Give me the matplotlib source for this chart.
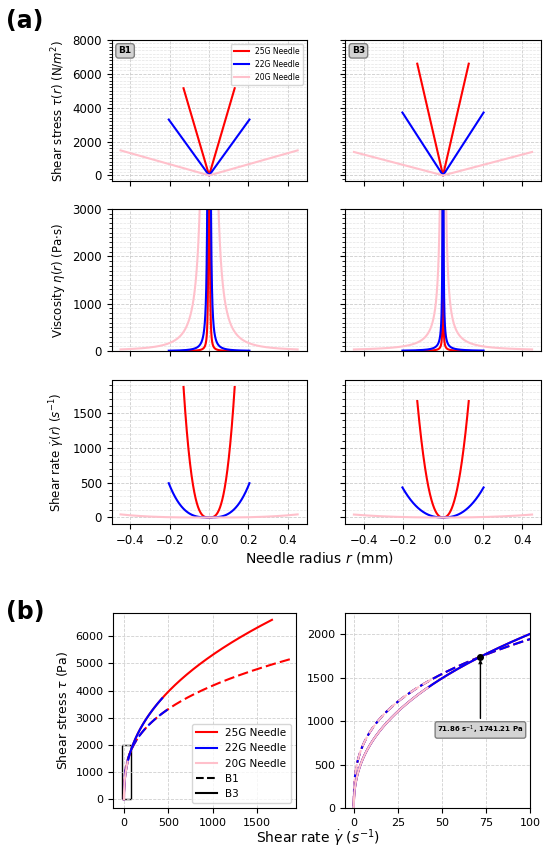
import numpy as np
import matplotlib
matplotlib.use('Agg')
import matplotlib.pyplot as plt
from matplotlib.lines import Line2D
from matplotlib.patches import Rectangle
from matplotlib.ticker import MultipleLocator

# Needles and batches
needles = ['25G Needle', '22G Needle', '20G Needle']
colors = ['red', 'blue', 'pink']
radius_mm = [0.13, 0.205, 0.45]
batches = ['B1', 'B3']
batch_styles = {'B1': (0, (5, 2)), 'B3': '-'}

# Wall shear stress (Pa), per batch and needle
wall_stress = {'B1': [5150, 3300, 1480], 'B3': [6600, 3715, 1385]}
# Flow index of the power-law fits
flow_index = {'B1': 0.333, 'B3': 0.424}
# Crossing point of the two flow curves
cross_rate = 71.86
cross_stress = 1741.21


def profiles(batch, i, half=False):
    # stress grows linearly from the centre, shear rate follows the power law
    R = radius_mm[i]
    if half:
        r = np.linspace(-R, 0, 1000)
    else:
        r = np.linspace(-R, R, 2000)
    tau = wall_stress[batch][i] * np.abs(r) / R
    rate = cross_rate * (tau / cross_stress) ** (1.0 / flow_index[batch])
    with np.errstate(divide='ignore', invalid='ignore'):
        visc = tau / rate
    return r, tau, rate, visc


fig = plt.figure(figsize=(5.5, 8.51), dpi=100)
W, H = 550.0, 851.0


def add_ax(x0, y0, x1, y1, **kw):
    return fig.add_axes([x0 / W, 1 - y1 / H, (x1 - x0) / W, (y1 - y0) / H], **kw)


# ---- (a) radial profiles ----
cols = [(111.7, 306.5), (345, 541)]
rows = [(40, 181), (209, 351), (380.5, 524)]
axes = [[None, None] for _ in rows]
for ri, (y0, y1) in enumerate(rows):
    for ci, (x0, x1) in enumerate(cols):
        kw = {}
        if ri > 0:
            kw['sharex'] = axes[0][0]
        if ci > 0:
            kw['sharey'] = axes[ri][0]
        axes[ri][ci] = add_ax(x0, y0, x1, y1, **kw)

for ci, batch in enumerate(batches):
    for i in range(len(needles)):
        r, tau, rate, visc = profiles(batch, i)
        axes[0][ci].plot(r, tau, color=colors[i], lw=1.5, label=needles[i])
        axes[1][ci].plot(r, visc, color=colors[i], lw=1.5)
        axes[2][ci].plot(r, rate, color=colors[i], lw=1.5)
    axes[0][ci].text(0.035, 0.955, batch, transform=axes[0][ci].transAxes,
                     fontsize=6.5, fontweight='bold', va='top', ha='left',
                     bbox=dict(boxstyle='round,pad=0.3', facecolor='lightgray',
                               edgecolor='gray'))

axes[0][0].set_ylim(top=8000)
axes[1][0].set_ylim(0, 3000)
major_steps = [2000, 1000, 500]
minor_steps = [200, 100, 100]
for ri in range(3):
    for ci in range(2):
        ax = axes[ri][ci]
        ax.yaxis.set_major_locator(MultipleLocator(major_steps[ri]))
        ax.yaxis.set_minor_locator(MultipleLocator(minor_steps[ri]))
        ax.grid(True, which='major', linestyle='--', color='#cccccc', lw=0.6)
        ax.grid(True, which='minor', linestyle='--', color='#e4e4e4', lw=0.5)
        ax.tick_params(labelsize=8.5)
        ax.tick_params(which='minor', length=2)
        if ri < 2:
            ax.tick_params(labelbottom=False)
        if ci > 0:
            ax.tick_params(labelleft=False)
axes[0][0].set_xticks([-0.4, -0.2, 0.0, 0.2, 0.4])

axes[0][0].legend(loc='upper right', fontsize=5.5)
axes[0][0].set_ylabel(r'Shear stress $\tau(r)$ (N/$m^2$)', fontsize=8.5)
axes[1][0].set_ylabel(r'Viscosity $\eta(r)$ (Pa$\cdot$s)', fontsize=8.5)
axes[2][0].set_ylabel(r'Shear rate $\dot{\gamma}(r)$ $(s^{-1})$', fontsize=8.5)
fig.text(320 / W, 1 - 558 / H, r'Needle radius $r$ (mm)', fontsize=10,
         ha='center', va='center')
fig.text(6 / W, 1 - 21 / H, '(a)', fontsize=17, fontweight='bold',
         ha='left', va='center')

# ---- (b) flow curves ----
axl = add_ax(113.3, 613.3, 296, 808.3)
axr = add_ax(345, 613.3, 530, 808.3)
for ax in (axl, axr):
    for batch in batches:
        for i in range(len(needles)):
            r, tau, rate, visc = profiles(batch, i, half=True)
            ax.plot(rate, tau, color=colors[i], lw=1.5, ls=batch_styles[batch])
    ax.grid(True, linestyle='--', color='#d0d0d0', lw=0.6)
    ax.tick_params(labelsize=8)

axl.add_patch(Rectangle((-20, 0), 100, 2000, fill=False, edgecolor='black', lw=1))
axl.set_xlim(-120, 1935)
axl.set_ylim(-330, 6840)
axl.set_xticks([0, 500, 1000, 1500])
axl.set_ylabel(r'Shear stress $\tau$ (Pa)', fontsize=9)

axr.set_xlim(-5, 100)
axr.set_ylim(0, 2240)
axr.set_xticks([0, 25, 50, 75, 100])
axr.plot([cross_rate], [cross_stress], 'o', color='black', ms=4)
axr.annotate(r'%.2f s$^{-1}$, %.2f Pa' % (cross_rate, cross_stress),
             xy=(cross_rate, cross_stress), xytext=(cross_rate, 900),
             ha='center', va='center', fontsize=5, fontweight='bold',
             bbox=dict(boxstyle='round,pad=0.3', facecolor='lightgray',
                       edgecolor='gray'),
             arrowprops=dict(arrowstyle='->', color='black', lw=1))

handles = [Line2D([], [], color=c, lw=1.5) for c in colors]
handles += [Line2D([], [], color='black', ls='--', lw=1.5),
            Line2D([], [], color='black', ls='-', lw=1.5)]
axl.legend(handles, needles + batches, loc='lower right', fontsize=7.5)

fig.text(318 / W, 1 - 838 / H, r'Shear rate $\dot{\gamma}$ $(s^{-1})$', fontsize=10,
         ha='center', va='center')
fig.text(6 / W, 1 - 612 / H, '(b)', fontsize=17, fontweight='bold',
         ha='left', va='center')

fig.savefig('out.png', dpi=100)
